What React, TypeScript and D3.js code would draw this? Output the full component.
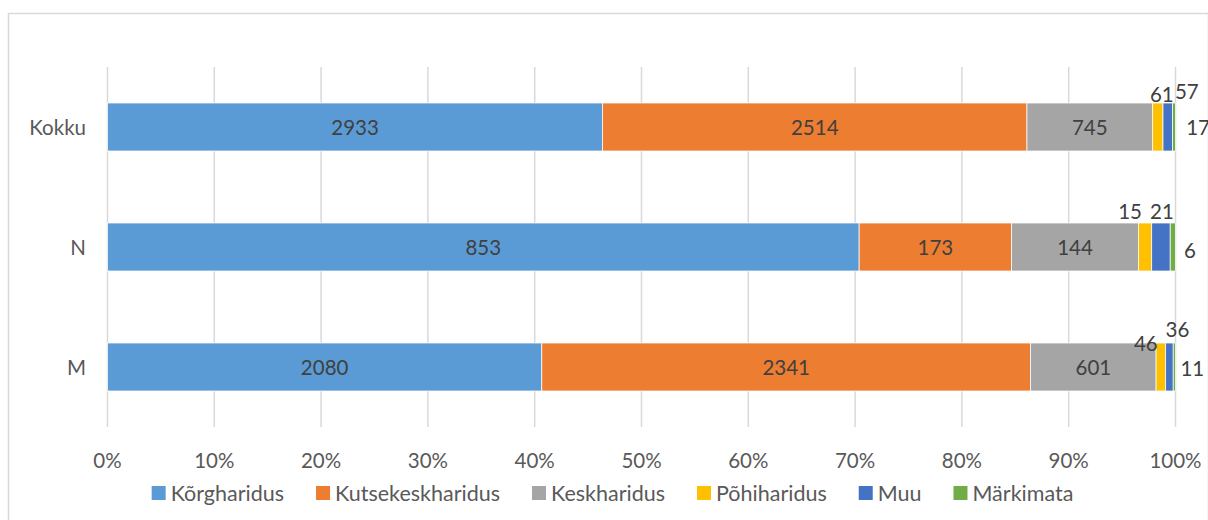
import React, { useEffect, useRef } from "react";
import * as d3 from "d3";

const WIDTH = 1208;
const HEIGHT = 520;
const MARGIN = { top: 67, right: 32.5, bottom: 93, left: 107.5 };
const FONT = "Lato, 'Open Sans', sans-serif";

const CATEGORIES = ["Kokku", "N", "M"];
const SERIES = ["Kõrgharidus", "Kutsekeskharidus", "Keskharidus", "Põhiharidus", "Muu", "Märkimata"];
const COLORS = ["#5B9BD5", "#ED7D31", "#A5A5A5", "#FFC000", "#4472C4", "#70AD47"];

const KORGHARIDUS = [2933, 853, 2080];
const KUTSEKESKHARIDUS = [2514, 173, 2341];
const KESKHARIDUS = [745, 144, 601];
const POHIHARIDUS = [61, 15, 46];
const MUU = [57, 21, 36];
const MARKIMATA = [17, 6, 11];

const TICKS = [0, 0.1, 0.2, 0.3, 0.4, 0.5, 0.6, 0.7, 0.8, 0.9, 1];

// manual nudges for labels of thin segments (dx, dy from segment centre)
const LABEL_NUDGE: Record<string, [number, number]> = {
  "Kokku|Põhiharidus": [4, -33],
  "Kokku|Muu": [19, -36],
  "Kokku|Märkimata": [24, 0],
  "N|Põhiharidus": [-15, -36],
  "N|Muu": [1, -36],
  "N|Märkimata": [17, 3],
  "M|Põhiharidus": [-15, -24],
  "M|Muu": [8, -38],
  "M|Märkimata": [18, 1],
};

const App = () => {
  const ref = useRef<SVGSVGElement>(null);

  useEffect(() => {
    const svg = d3.select(ref.current);
    svg.selectAll("*").remove();

    const values = [KORGHARIDUS, KUTSEKESKHARIDUS, KESKHARIDUS, POHIHARIDUS, MUU, MARKIMATA];
    const rows = CATEGORIES.map((c, i) => {
      const row: any = { category: c };
      SERIES.forEach((s, j) => (row[s] = values[j][i]));
      return row;
    });

    const stacked = d3.stack().keys(SERIES).offset(d3.stackOffsetExpand)(rows);

    const x = d3.scaleLinear().domain([0, 1]).range([MARGIN.left, WIDTH - MARGIN.right]);
    const y = d3
      .scaleBand()
      .domain(CATEGORIES)
      .range([MARGIN.top, HEIGHT - MARGIN.bottom])
      .paddingInner(0.6)
      .paddingOuter(0.3);

    // frame
    svg
      .append("rect")
      .attr("x", 8.5)
      .attr("y", 13.5)
      .attr("width", 1200)
      .attr("height", 520)
      .attr("fill", "#fff")
      .attr("stroke", "#d9d9d9")
      .attr("stroke-width", 1.5);

    // gridlines
    svg
      .append("g")
      .selectAll("line")
      .data(TICKS)
      .join("line")
      .attr("x1", (d) => x(d))
      .attr("x2", (d) => x(d))
      .attr("y1", MARGIN.top)
      .attr("y2", HEIGHT - MARGIN.bottom)
      .attr("stroke", "#d9d9d9")
      .attr("stroke-width", 1.5);

    // tick labels
    svg
      .append("g")
      .selectAll("text")
      .data(TICKS)
      .join("text")
      .attr("x", (d) => x(d))
      .attr("y", 460)
      .attr("text-anchor", "middle")
      .attr("dominant-baseline", "central")
      .attr("font-family", FONT)
      .attr("font-size", 20.5)
      .attr("fill", "#595959")
      .text((d) => d3.format(".0%")(d));

    // category labels
    svg
      .append("g")
      .selectAll("text")
      .data(CATEGORIES)
      .join("text")
      .attr("x", 86)
      .attr("y", (d) => y(d)! + y.bandwidth() / 2)
      .attr("text-anchor", "end")
      .attr("dominant-baseline", "central")
      .attr("font-family", FONT)
      .attr("font-size", 20.5)
      .attr("fill", "#595959")
      .text((d) => d);

    // bars
    const layers = svg
      .append("g")
      .selectAll("g")
      .data(stacked)
      .join("g")
      .attr("fill", (_, i) => COLORS[i]);

    layers
      .selectAll("rect")
      .data((d) => d.map((p) => ({ p, key: d.key })))
      .join("rect")
      .attr("x", (d) => x(d.p[0]))
      .attr("y", (d) => y(d.p.data.category as string)!)
      .attr("width", (d) => x(d.p[1]) - x(d.p[0]))
      .attr("height", y.bandwidth())
      .attr("stroke", "#fff")
      .attr("stroke-width", 0.75);

    // data labels
    const labels = svg.append("g");
    stacked.forEach((layer) => {
      layer.forEach((p) => {
        const cat = p.data.category as string;
        const nudge = LABEL_NUDGE[`${cat}|${layer.key}`] || [0, 0];
        labels
          .append("text")
          .attr("x", (x(p[0]) + x(p[1])) / 2 + nudge[0])
          .attr("y", y(cat)! + y.bandwidth() / 2 + nudge[1])
          .attr("text-anchor", "middle")
          .attr("dominant-baseline", "central")
          .attr("font-family", FONT)
          .attr("font-size", 20.5)
          .attr("fill", "#404040")
          .text(p.data[layer.key] as number);
      });
    });

    // legend
    const legend = svg.append("g");
    const items = legend
      .selectAll("g")
      .data(SERIES)
      .join("g");
    items
      .append("rect")
      .attr("width", 14)
      .attr("height", 14)
      .attr("y", -7)
      .attr("fill", (_, i) => COLORS[i]);
    items
      .append("text")
      .attr("x", 19)
      .attr("dominant-baseline", "central")
      .attr("font-family", FONT)
      .attr("font-size", 21.5)
      .attr("fill", "#595959")
      .text((d) => d);

    const GAP = 32;
    let offset = 0;
    const positions: number[] = [];
    items.each(function () {
      positions.push(offset);
      const w = (this as SVGGElement).getBBox().width;
      offset += w + GAP;
    });
    const total = offset - GAP;
    items.attr("transform", (_, i) => `translate(${612.5 - total / 2 + positions[i]},493)`);
  }, []);

  return (
    <svg
      ref={ref}
      width={WIDTH}
      height={HEIGHT}
      style={{ position: "absolute", left: 0, top: 0, background: "#fff" }}
    />
  );
};

export default App;
